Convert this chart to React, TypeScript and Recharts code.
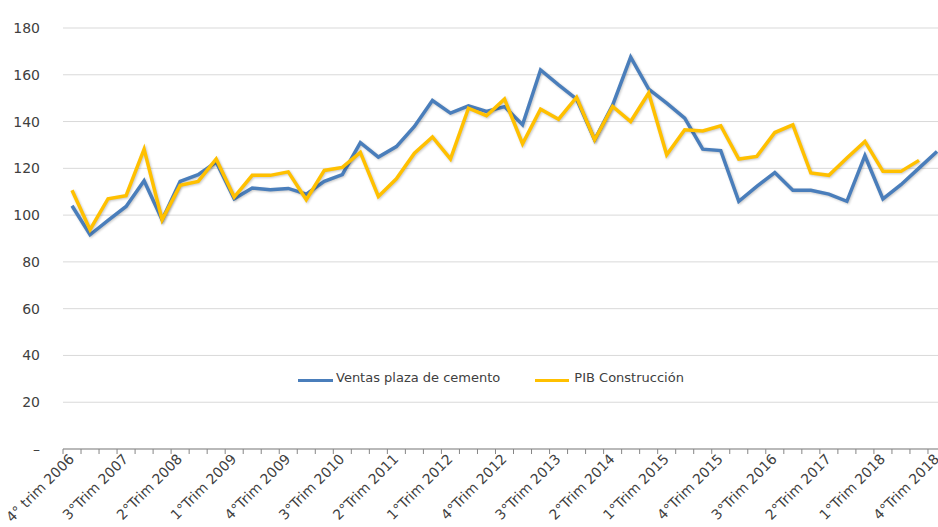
import React from 'react';
import { LineChart, Line, XAxis, YAxis, CartesianGrid } from 'recharts';

// quarters from 4Q 2006 to 4Q 2018
const quarters = [
  '4° trim 2006',
  '1°Trim 2007', '2°Trim 2007', '3°Trim 2007', '4°Trim 2007',
  '1°Trim 2008', '2°Trim 2008', '3°Trim 2008', '4°Trim 2008',
  '1°Trim 2009', '2°Trim 2009', '3°Trim 2009', '4°Trim 2009',
  '1°Trim 2010', '2°Trim 2010', '3°Trim 2010', '4°Trim 2010',
  '1°Trim 2011', '2°Trim 2011', '3°Trim 2011', '4°Trim 2011',
  '1°Trim 2012', '2°Trim 2012', '3°Trim 2012', '4°Trim 2012',
  '1°Trim 2013', '2°Trim 2013', '3°Trim 2013', '4°Trim 2013',
  '1°Trim 2014', '2°Trim 2014', '3°Trim 2014', '4°Trim 2014',
  '1°Trim 2015', '2°Trim 2015', '3°Trim 2015', '4°Trim 2015',
  '1°Trim 2016', '2°Trim 2016', '3°Trim 2016', '4°Trim 2016',
  '1°Trim 2017', '2°Trim 2017', '3°Trim 2017', '4°Trim 2017',
  '1°Trim 2018', '2°Trim 2018', '3°Trim 2018', '4°Trim 2018',
];

const ventas = [
  104, 91.6, 97.7, 103.7, 114.7, 98, 114.4, 117.3, 122.7, 107, 111.6, 110.8, 111.4,
  109, 114.4, 117.3, 131, 124.8, 129.3, 137.9, 149, 143.6, 146.7, 144.3, 146.4,
  138.6, 162.1, 155.7, 149.6, 132.2, 147, 167.5, 153.9, 147.9, 141.5, 128.2, 127.6,
  105.9, 112.3, 118.2, 110.6, 110.6, 109, 105.9, 125.4, 106.9, 113, 120.1, 127.2,
];

const pib = [
  110.6, 93.8, 107, 108.3, 128.2, 98, 112.7, 114.4, 124, 107.7, 117, 117, 118.5,
  106.6, 119.1, 120.4, 126.8, 108, 115.5, 126.5, 133.4, 124, 145.7, 142.5, 149.6,
  130.5, 145.3, 141, 150.4, 132.2, 146.5, 140, 152.2, 125.8, 136.5, 136, 138.2,
  124, 125.1, 135.3, 138.6, 118, 117, 124.4, 131.5, 118.7, 118.7, 123.4, null,
];

const yTicks = [0, 20, 40, 60, 80, 100, 120, 140, 160, 180];

const data = quarters.map((q, i) => ({ q, ventas: ventas[i], pib: pib[i] }));

const FONT = '"DejaVu Sans", Verdana, sans-serif';
const HALF = 9.01;

const XTick = (props: any) => {
  const { x, y, payload, index } = props;
  const last = index === quarters.length - 1;
  return (
    <g>
      <line x1={x - HALF} x2={x - HALF} y1={y} y2={y + 5} stroke="#868686" />
      {last && <line x1={x + HALF} x2={x + HALF} y1={y} y2={y + 5} stroke="#868686" />}
      {index % 3 === 0 && (
        <text
          x={0}
          y={0}
          transform={`translate(${x + 3},${y + 11}) rotate(-45)`}
          textAnchor="end"
          fontSize={14}
          fill="#404040"
          fontFamily={FONT}
        >
          {payload.value}
        </text>
      )}
    </g>
  );
};

export default function App() {
  return (
    <div style={{ position: 'absolute', left: 0, top: 0, width: 938, height: 527, overflow: 'hidden', background: '#fff' }}>
      <style>{`.recharts-line-curve { filter: drop-shadow(1px 1.5px 1px rgba(0,0,0,0.22)); }`}</style>
      <LineChart width={946} height={527} data={data} margin={{ top: 28, right: 0, bottom: 0, left: 0 }}>
        <CartesianGrid vertical={false} stroke="#d9d9d9" />
        <XAxis
          dataKey="q"
          interval={0}
          padding={{ left: HALF, right: HALF }}
          tickLine={false}
          tickSize={0}
          tickMargin={0}
          height={78}
          stroke="#868686"
          tick={<XTick />}
        />
        <YAxis
          width={63}
          domain={[0, 180]}
          ticks={yTicks}
          axisLine={false}
          tickLine={false}
          tickSize={0}
          tickMargin={23}
          tickFormatter={(v: number) => (v === 0 ? '–' : String(v))}
          tick={{ fill: '#404040', fontSize: 14, fontFamily: FONT }}
        />
        <Line dataKey="ventas" name="Ventas plaza de cemento" stroke="#4a7ebb" strokeWidth={3.5} dot={false} isAnimationActive={false} strokeLinejoin="miter" />
        <Line dataKey="pib" name="PIB Construcción" stroke="#ffc000" strokeWidth={3.5} dot={false} isAnimationActive={false} strokeLinejoin="miter" />
      </LineChart>
      <div style={{ position: 'absolute', top: 370, left: 298, display: 'flex', alignItems: 'center', fontFamily: FONT, fontSize: 13, color: '#404040' }}>
        <span style={{ display: 'inline-block', width: 35, height: 3, background: '#4a7ebb', marginRight: 3, marginTop: 5 }} />
        <span>Ventas plaza de cemento</span>
        <span style={{ display: 'inline-block', width: 34, height: 3, background: '#ffc000', marginLeft: 35, marginRight: 5, marginTop: 5 }} />
        <span>PIB Construcción</span>
      </div>
    </div>
  );
}
